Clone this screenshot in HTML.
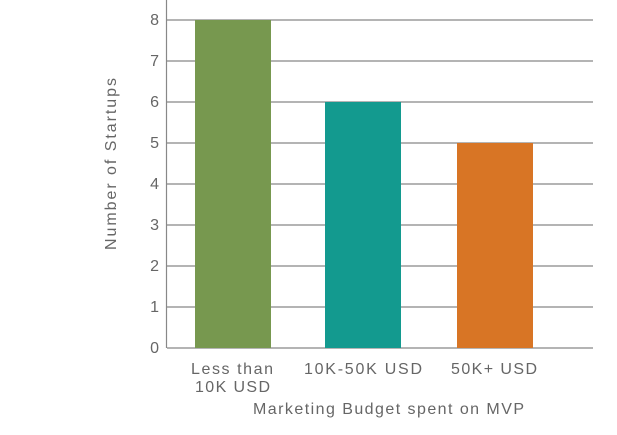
<!DOCTYPE html>
<html><head><style>
body{margin:0;background:#fff;}
svg text{font-family:"Liberation Sans",sans-serif;fill:#666;}
</style></head><body>
<svg width="617" height="430" xmlns="http://www.w3.org/2000/svg">
<g stroke="#888" stroke-width="1.2">
<line x1="167" y1="20" x2="593" y2="20"/>
<line x1="167" y1="61" x2="593" y2="61"/>
<line x1="167" y1="102" x2="593" y2="102"/>
<line x1="167" y1="143" x2="593" y2="143"/>
<line x1="167" y1="184" x2="593" y2="184"/>
<line x1="167" y1="225" x2="593" y2="225"/>
<line x1="167" y1="266" x2="593" y2="266"/>
<line x1="167" y1="307" x2="593" y2="307"/>
<line x1="167" y1="348" x2="593" y2="348"/>
<line x1="166.5" y1="0" x2="166.5" y2="348"/>
</g>
<rect x="195" y="20" width="76" height="328" fill="#77984f"/>
<rect x="325" y="102" width="76" height="246" fill="#139a8f"/>
<rect x="457" y="143" width="76" height="205" fill="#d87525"/>
<g font-size="16" text-anchor="end">
<text x="159" y="25">8</text><text x="159" y="66">7</text><text x="159" y="107">6</text>
<text x="159" y="148">5</text><text x="159" y="189">4</text><text x="159" y="230">3</text>
<text x="159" y="271">2</text><text x="159" y="312">1</text><text x="159" y="353">0</text>
</g>
<g font-size="16">
<text x="191" y="374" textLength="82" lengthAdjust="spacing">Less than</text>
<text x="195" y="392" textLength="75" lengthAdjust="spacing">10K USD</text>
<text x="304" y="374" textLength="118" lengthAdjust="spacing">10K-50K USD</text>
<text x="451" y="374" textLength="86" lengthAdjust="spacing">50K+ USD</text>
<text x="253" y="414" textLength="271" lengthAdjust="spacing">Marketing Budget spent on MVP</text>
<text transform="translate(116,250) rotate(-90)" textLength="172" lengthAdjust="spacing">Number of Startups</text>
</g>
</svg>
</body></html>
